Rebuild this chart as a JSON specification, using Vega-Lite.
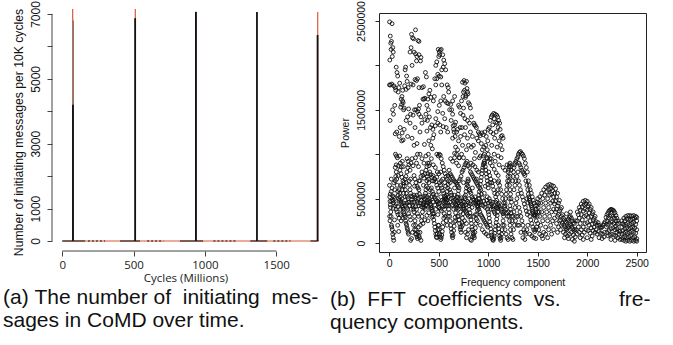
{
"$schema": "https://vega.github.io/schema/vega-lite/v6.json",
"padding": {"left": 3, "top": 0, "right": 0, "bottom": 0},
"background": "white",
"bounds": "flush",
"spacing": 60,
"config": {"view": {"stroke": null}, "axis": {"labelFont": "Liberation Sans", "titleFont": "Liberation Sans", "titleFontWeight": "normal", "labelColor": "#111", "titleColor": "#111", "tickColor": "#333", "grid": false, "labelOverlap": false}},
"datasets": {
"base": [
{"c":"red","k":"solid","x":0,"x2":1800},
{"c":"black","k":"solid","x":0,"x2":160},{"c":"black","k":"dotted","x":180,"x2":300},{"c":"black","k":"solid","x":405,"x2":545},{"c":"black","k":"dotted","x":595,"x2":710},{"c":"black","k":"solid","x":825,"x2":987},{"c":"black","k":"dotted","x":1060,"x2":1225},{"c":"black","k":"solid","x":1318,"x2":1437},{"c":"black","k":"dotted","x":1480,"x2":1600},{"c":"black","k":"solid","x":1740,"x2":1790}
],
"spikes": [
{"c":"red","x":73,"y":7150},{"c":"red","x":512,"y":7150},{"c":"red","x":938,"y":7080},{"c":"red","x":1791,"y":7060},
{"c":"grey","x":77,"y":6800},{"c":"black","x":75,"y":4200},{"c":"black","x":511,"y":6870},{"c":"black","x":937,"y":7060},{"c":"black","x":1365,"y":7060},{"c":"black","x":1790,"y":6350}
],
"pts": [
{"f":3,"p":2490000},{"f":28,"p":2470000},{"f":10,"p":2330000},{"f":22,"p":2270000},{"f":15,"p":2250000},{"f":35,"p":2200000},{"f":5,"p":2060000},{"f":40,"p":2150000},{"f":18,"p":2180000},{"f":30,"p":2100000},{"f":2,"p":1780000},{"f":12,"p":1780000},{"f":25,"p":1790000},{"f":45,"p":1770000},{"f":60,"p":1750000},{"f":8,"p":1380000},{"f":33,"p":1500000},{"f":42,"p":1450000},{"f":55,"p":1550000},{"f":70,"p":1980000},{"f":78,"p":1920000},{"f":85,"p":1880000},{"f":65,"p":1720000},{"f":90,"p":1700000},{"f":95,"p":1750000},
{"f":105,"p":1800000},{"f":120,"p":1620000},{"f":128,"p":1650000},{"f":135,"p":1600000},{"f":140,"p":1580000},{"f":125,"p":1560000},{"f":115,"p":1530000},{"f":145,"p":1500000},{"f":150,"p":1520000},{"f":160,"p":1950000},{"f":165,"p":1980000},{"f":175,"p":1880000},{"f":180,"p":1820000},{"f":110,"p":1300000},{"f":130,"p":1240000},{"f":150,"p":1280000},{"f":170,"p":1380000},{"f":185,"p":1420000},{"f":100,"p":1200000},{"f":60,"p":1230000},{"f":75,"p":1250000},{"f":190,"p":1750000},{"f":170,"p":1730000},{"f":155,"p":1770000},{"f":135,"p":1720000},{"f":195,"p":1510000},{"f":185,"p":1200000},{"f":140,"p":1160000},{"f":125,"p":1150000},
{"f":225,"p":2350000},{"f":265,"p":2400000},{"f":235,"p":2310000},{"f":245,"p":2300000},{"f":290,"p":2280000},{"f":300,"p":2270000},{"f":210,"p":2150000},{"f":220,"p":2200000},{"f":250,"p":2150000},{"f":265,"p":2130000},{"f":280,"p":2100000},{"f":300,"p":2120000},{"f":275,"p":2050000},{"f":315,"p":2050000},{"f":230,"p":2000000},{"f":320,"p":2090000},{"f":260,"p":1840000},{"f":275,"p":1830000},{"f":285,"p":1850000},{"f":220,"p":1790000},{"f":240,"p":1780000},{"f":300,"p":1750000},{"f":330,"p":1750000},{"f":345,"p":1760000},{"f":350,"p":1620000},{"f":340,"p":1620000},{"f":360,"p":1630000},{"f":305,"p":1550000},{"f":255,"p":1500000},{"f":270,"p":1500000},{"f":285,"p":1480000},{"f":295,"p":1510000},{"f":240,"p":1440000},{"f":300,"p":1450000},{"f":320,"p":1420000},{"f":215,"p":1450000},{"f":210,"p":1350000},{"f":260,"p":1300000},{"f":230,"p":1180000},{"f":250,"p":1100000},{"f":280,"p":1120000},{"f":330,"p":1350000},{"f":310,"p":1250000},
{"f":365,"p":1920000},{"f":375,"p":1870000},{"f":390,"p":1620000},{"f":400,"p":1680000},{"f":410,"p":1720000},{"f":420,"p":1640000},{"f":380,"p":1550000},{"f":395,"p":1500000},{"f":405,"p":1420000},{"f":370,"p":1450000},{"f":360,"p":1390000},{"f":385,"p":1380000},{"f":415,"p":1300000},{"f":430,"p":1330000},{"f":440,"p":1280000},{"f":380,"p":1260000},{"f":400,"p":1150000},{"f":355,"p":1110000},{"f":420,"p":1100000},{"f":440,"p":1180000},{"f":450,"p":1220000},{"f":435,"p":1060000},{"f":455,"p":1650000},{"f":445,"p":1600000},{"f":470,"p":1780000},{"f":460,"p":1850000},
{"f":470,"p":2000000},{"f":480,"p":2040000},{"f":495,"p":2180000},{"f":505,"p":2150000},{"f":515,"p":2170000},{"f":525,"p":2180000},{"f":510,"p":2120000},{"f":500,"p":2100000},{"f":540,"p":2120000},{"f":550,"p":2060000},{"f":560,"p":2020000},{"f":545,"p":1980000},{"f":530,"p":1950000},{"f":490,"p":1900000},{"f":505,"p":1880000},{"f":520,"p":1870000},{"f":480,"p":1850000},{"f":570,"p":1950000},{"f":585,"p":1780000},{"f":595,"p":1750000},{"f":600,"p":1700000},{"f":530,"p":1780000},{"f":550,"p":1650000},{"f":565,"p":1600000},{"f":580,"p":1580000},{"f":595,"p":1570000},{"f":520,"p":1600000},{"f":505,"p":1550000},{"f":490,"p":1480000},{"f":540,"p":1460000},{"f":560,"p":1400000},{"f":470,"p":1400000},{"f":490,"p":1350000},{"f":510,"p":1330000},{"f":465,"p":1320000},{"f":520,"p":1250000},{"f":545,"p":1310000},{"f":575,"p":1300000},{"f":590,"p":1250000},{"f":610,"p":1500000},{"f":620,"p":1560000},
{"f":630,"p":1500000},{"f":640,"p":1450000},{"f":645,"p":1320000},{"f":650,"p":1280000},{"f":655,"p":1250000},{"f":660,"p":1330000},{"f":670,"p":1360000},{"f":680,"p":1250000},{"f":665,"p":1200000},{"f":690,"p":1280000},{"f":700,"p":1550000},{"f":710,"p":1530000},{"f":640,"p":1600000},{"f":660,"p":1650000},{"f":625,"p":1380000},{"f":640,"p":1180000},{"f":670,"p":1080000},{"f":690,"p":1050000},{"f":700,"p":1150000},{"f":720,"p":1460000},{"f":715,"p":1300000},{"f":680,"p":1000000},{"f":705,"p":960000},{"f":660,"p":1010000},
{"f":740,"p":1810000},{"f":755,"p":1830000},{"f":765,"p":1800000},{"f":780,"p":1820000},{"f":785,"p":1740000},{"f":790,"p":1700000},{"f":795,"p":1680000},{"f":775,"p":1660000},{"f":760,"p":1720000},{"f":750,"p":1700000},{"f":745,"p":1650000},{"f":730,"p":1600000},{"f":770,"p":1640000},{"f":800,"p":1580000},{"f":810,"p":1560000},{"f":820,"p":1520000},{"f":830,"p":1420000},{"f":750,"p":1520000},{"f":765,"p":1400000},{"f":745,"p":1440000},{"f":790,"p":1380000},{"f":810,"p":1350000},{"f":735,"p":1300000},{"f":770,"p":1300000},{"f":820,"p":1250000},{"f":840,"p":1200000},{"f":760,"p":1220000},{"f":790,"p":1180000},{"f":800,"p":1100000},{"f":850,"p":1100000},{"f":830,"p":1080000},{"f":780,"p":1050000},{"f":740,"p":1100000},{"f":720,"p":1200000},{"f":855,"p":1350000},{"f":860,"p":1330000},
{"f":870,"p":1320000},{"f":880,"p":1300000},{"f":900,"p":1250000},{"f":910,"p":1230000},{"f":920,"p":1210000},{"f":935,"p":1240000},{"f":950,"p":1220000},{"f":965,"p":1250000},{"f":980,"p":1200000},{"f":900,"p":1150000},{"f":930,"p":1120000},{"f":955,"p":1080000},{"f":975,"p":1100000},{"f":995,"p":1150000},{"f":885,"p":1180000},{"f":960,"p":1000000},{"f":940,"p":1050000},{"f":990,"p":1050000},{"f":920,"p":980000},{"f":870,"p":1020000},{"f":860,"p":950000},{"f":985,"p":960000},{"f":1000,"p":1000000},{"f":1000,"p":1280000},
{"f":1020,"p":1380000},{"f":1030,"p":1420000},{"f":1040,"p":1440000},{"f":1055,"p":1460000},{"f":1070,"p":1450000},{"f":1085,"p":1440000},{"f":1095,"p":1420000},{"f":1105,"p":1380000},{"f":1115,"p":1350000},{"f":1060,"p":1400000},{"f":1075,"p":1360000},{"f":1045,"p":1330000},{"f":1090,"p":1350000},{"f":1010,"p":1300000},{"f":1025,"p":1250000},{"f":1050,"p":1230000},{"f":1080,"p":1250000},{"f":1100,"p":1300000},{"f":1120,"p":1280000},{"f":1130,"p":1200000},{"f":1140,"p":1210000},{"f":1150,"p":1180000},{"f":1125,"p":1100000},{"f":1110,"p":1150000},{"f":1065,"p":1180000},{"f":1035,"p":1100000},{"f":1090,"p":1080000},{"f":1140,"p":1050000},{"f":1060,"p":1000000},{"f":1100,"p":980000},{"f":1130,"p":960000},{"f":1015,"p":950000},
{"f":2,"p":650000},{"f":5,"p":520000},{"f":8,"p":470000},{"f":12,"p":400000},{"f":15,"p":350000},{"f":18,"p":300000},{"f":22,"p":200000},{"f":25,"p":180000},{"f":30,"p":150000},{"f":35,"p":100000},{"f":40,"p":60000},{"f":45,"p":30000},{"f":50,"p":120000},{"f":10,"p":550000},{"f":20,"p":580000},{"f":28,"p":620000},{"f":33,"p":530000},{"f":38,"p":480000},{"f":42,"p":450000},{"f":48,"p":520000},{"f":55,"p":600000},{"f":60,"p":700000},{"f":65,"p":750000},{"f":70,"p":800000},{"f":75,"p":720000},{"f":80,"p":650000},{"f":85,"p":580000},{"f":90,"p":540000},{"f":95,"p":500000},{"f":58,"p":420000},{"f":68,"p":380000},{"f":78,"p":350000},{"f":88,"p":320000},{"f":98,"p":280000},{"f":62,"p":1000000},{"f":72,"p":980000},{"f":82,"p":960000},{"f":92,"p":870000},{"f":3,"p":300000},{"f":7,"p":250000},{"f":52,"p":260000},{"f":85,"p":200000},{"f":95,"p":130000},{"f":60,"p":850000},{"f":70,"p":880000},
{"f":100,"p":600000},{"f":105,"p":560000},{"f":110,"p":520000},{"f":115,"p":480000},{"f":120,"p":460000},{"f":125,"p":440000},{"f":130,"p":420000},{"f":135,"p":400000},{"f":140,"p":380000},{"f":145,"p":350000},{"f":150,"p":330000},{"f":155,"p":310000},{"f":160,"p":290000},{"f":165,"p":250000},{"f":170,"p":220000},{"f":175,"p":200000},{"f":180,"p":170000},{"f":185,"p":150000},{"f":190,"p":120000},{"f":195,"p":100000},{"f":108,"p":820000},{"f":118,"p":780000},{"f":128,"p":740000},{"f":138,"p":700000},{"f":148,"p":680000},{"f":158,"p":720000},{"f":168,"p":750000},{"f":178,"p":800000},{"f":188,"p":850000},{"f":198,"p":880000},{"f":112,"p":900000},{"f":122,"p":860000},{"f":132,"p":920000},{"f":142,"p":860000},{"f":152,"p":640000},{"f":162,"p":600000},{"f":172,"p":560000},{"f":182,"p":520000},{"f":192,"p":500000},{"f":145,"p":560000},{"f":130,"p":600000},{"f":115,"p":650000},{"f":200,"p":460000},{"f":175,"p":450000},{"f":160,"p":420000},{"f":140,"p":280000},{"f":120,"p":250000},{"f":110,"p":320000},{"f":185,"p":380000},{"f":195,"p":330000},{"f":105,"p":980000},{"f":180,"p":950000},{"f":190,"p":920000},
{"f":200,"p":700000},{"f":205,"p":650000},{"f":210,"p":600000},{"f":215,"p":560000},{"f":220,"p":530000},{"f":225,"p":490000},{"f":230,"p":460000},{"f":235,"p":430000},{"f":240,"p":410000},{"f":245,"p":380000},{"f":250,"p":350000},{"f":255,"p":300000},{"f":260,"p":250000},{"f":265,"p":200000},{"f":270,"p":150000},{"f":275,"p":100000},{"f":280,"p":70000},{"f":285,"p":50000},{"f":215,"p":30000},{"f":225,"p":50000},{"f":235,"p":120000},{"f":245,"p":200000},{"f":255,"p":150000},{"f":265,"p":100000},{"f":290,"p":120000},{"f":295,"p":180000},{"f":210,"p":820000},{"f":220,"p":900000},{"f":230,"p":950000},{"f":240,"p":870000},{"f":250,"p":760000},{"f":260,"p":720000},{"f":270,"p":680000},{"f":280,"p":640000},{"f":290,"p":620000},{"f":300,"p":600000},{"f":250,"p":540000},{"f":260,"p":520000},{"f":270,"p":500000},{"f":280,"p":470000},{"f":290,"p":450000},{"f":300,"p":420000},{"f":275,"p":380000},{"f":285,"p":330000},{"f":295,"p":300000},{"f":205,"p":300000},{"f":215,"p":260000},{"f":265,"p":960000},{"f":275,"p":900000},{"f":285,"p":1000000},{"f":295,"p":860000},
{"f":300,"p":80000},{"f":305,"p":60000},{"f":310,"p":120000},{"f":320,"p":30000},{"f":315,"p":200000},{"f":325,"p":250000},{"f":330,"p":300000},{"f":335,"p":350000},{"f":340,"p":400000},{"f":345,"p":450000},{"f":350,"p":480000},{"f":355,"p":500000},{"f":360,"p":530000},{"f":365,"p":560000},{"f":370,"p":600000},{"f":375,"p":640000},{"f":380,"p":700000},{"f":385,"p":750000},{"f":390,"p":780000},{"f":395,"p":720000},{"f":400,"p":680000},{"f":310,"p":700000},{"f":320,"p":750000},{"f":330,"p":800000},{"f":340,"p":760000},{"f":350,"p":730000},{"f":360,"p":780000},{"f":370,"p":820000},{"f":380,"p":860000},{"f":390,"p":900000},{"f":400,"p":870000},{"f":305,"p":550000},{"f":315,"p":520000},{"f":325,"p":480000},{"f":345,"p":430000},{"f":355,"p":400000},{"f":365,"p":380000},{"f":375,"p":420000},{"f":385,"p":450000},{"f":395,"p":480000},{"f":310,"p":1000000},{"f":330,"p":950000},{"f":350,"p":900000},{"f":370,"p":980000},{"f":395,"p":1000000},{"f":340,"p":220000},{"f":360,"p":260000},{"f":380,"p":310000},{"f":400,"p":340000},{"f":390,"p":250000},
{"f":400,"p":540000},{"f":405,"p":500000},{"f":410,"p":470000},{"f":415,"p":440000},{"f":420,"p":420000},{"f":425,"p":400000},{"f":430,"p":380000},{"f":435,"p":360000},{"f":440,"p":330000},{"f":445,"p":300000},{"f":450,"p":260000},{"f":455,"p":220000},{"f":460,"p":180000},{"f":465,"p":140000},{"f":470,"p":100000},{"f":475,"p":70000},{"f":480,"p":60000},{"f":485,"p":100000},{"f":490,"p":150000},{"f":495,"p":200000},{"f":410,"p":800000},{"f":420,"p":770000},{"f":430,"p":740000},{"f":440,"p":760000},{"f":450,"p":700000},{"f":460,"p":720000},{"f":470,"p":690000},{"f":480,"p":650000},{"f":490,"p":620000},{"f":500,"p":580000},{"f":415,"p":600000},{"f":425,"p":620000},{"f":435,"p":580000},{"f":445,"p":550000},{"f":455,"p":520000},{"f":465,"p":500000},{"f":475,"p":480000},{"f":485,"p":460000},{"f":495,"p":440000},{"f":405,"p":900000},{"f":425,"p":950000},{"f":445,"p":880000},{"f":465,"p":850000},{"f":485,"p":800000},{"f":500,"p":780000},{"f":430,"p":290000},{"f":450,"p":330000},{"f":470,"p":380000},{"f":490,"p":320000},{"f":500,"p":400000},{"f":480,"p":1000000},{"f":495,"p":980000},
{"f":500,"p":200000},{"f":505,"p":150000},{"f":510,"p":100000},{"f":515,"p":70000},{"f":520,"p":40000},{"f":525,"p":60000},{"f":530,"p":90000},{"f":535,"p":130000},{"f":540,"p":180000},{"f":545,"p":230000},{"f":550,"p":280000},{"f":555,"p":330000},{"f":560,"p":380000},{"f":565,"p":420000},{"f":570,"p":460000},{"f":575,"p":500000},{"f":580,"p":540000},{"f":585,"p":580000},{"f":590,"p":620000},{"f":595,"p":660000},{"f":600,"p":700000},{"f":505,"p":1000000},{"f":515,"p":990000},{"f":525,"p":950000},{"f":535,"p":900000},{"f":545,"p":860000},{"f":555,"p":820000},{"f":565,"p":780000},{"f":575,"p":750000},{"f":585,"p":720000},{"f":595,"p":760000},{"f":510,"p":680000},{"f":520,"p":650000},{"f":530,"p":620000},{"f":540,"p":590000},{"f":550,"p":560000},{"f":560,"p":530000},{"f":570,"p":520000},{"f":580,"p":480000},{"f":590,"p":450000},{"f":600,"p":420000},{"f":505,"p":400000},{"f":515,"p":380000},{"f":525,"p":360000},{"f":535,"p":420000},{"f":545,"p":460000},{"f":555,"p":480000},{"f":565,"p":300000},{"f":575,"p":250000},{"f":585,"p":200000},{"f":595,"p":300000},{"f":520,"p":800000},{"f":540,"p":720000},{"f":560,"p":680000},
{"f":600,"p":380000},{"f":605,"p":340000},{"f":610,"p":300000},{"f":615,"p":250000},{"f":620,"p":200000},{"f":625,"p":160000},{"f":630,"p":120000},{"f":635,"p":80000},{"f":640,"p":60000},{"f":645,"p":90000},{"f":650,"p":140000},{"f":655,"p":190000},{"f":660,"p":240000},{"f":665,"p":290000},{"f":670,"p":340000},{"f":675,"p":390000},{"f":680,"p":430000},{"f":685,"p":470000},{"f":690,"p":510000},{"f":695,"p":550000},{"f":700,"p":590000},{"f":605,"p":820000},{"f":615,"p":780000},{"f":625,"p":760000},{"f":635,"p":740000},{"f":645,"p":720000},{"f":655,"p":700000},{"f":665,"p":690000},{"f":675,"p":680000},{"f":685,"p":660000},{"f":695,"p":640000},{"f":610,"p":600000},{"f":620,"p":570000},{"f":630,"p":540000},{"f":640,"p":510000},{"f":650,"p":480000},{"f":660,"p":460000},{"f":670,"p":440000},{"f":680,"p":420000},{"f":690,"p":400000},{"f":700,"p":380000},{"f":620,"p":950000},{"f":640,"p":920000},{"f":660,"p":960000},{"f":680,"p":900000},{"f":700,"p":870000},{"f":630,"p":420000},{"f":650,"p":380000},{"f":670,"p":250000},{"f":690,"p":300000},
{"f":700,"p":300000},{"f":705,"p":260000},{"f":710,"p":220000},{"f":715,"p":180000},{"f":720,"p":150000},{"f":725,"p":120000},{"f":730,"p":180000},{"f":735,"p":230000},{"f":740,"p":280000},{"f":745,"p":330000},{"f":750,"p":380000},{"f":755,"p":420000},{"f":760,"p":460000},{"f":765,"p":500000},{"f":770,"p":540000},{"f":775,"p":580000},{"f":780,"p":620000},{"f":785,"p":660000},{"f":790,"p":690000},{"f":795,"p":720000},{"f":800,"p":700000},{"f":705,"p":700000},{"f":715,"p":720000},{"f":725,"p":750000},{"f":735,"p":800000},{"f":745,"p":820000},{"f":755,"p":850000},{"f":765,"p":880000},{"f":775,"p":900000},{"f":785,"p":920000},{"f":795,"p":870000},{"f":710,"p":500000},{"f":720,"p":470000},{"f":730,"p":440000},{"f":740,"p":420000},{"f":750,"p":400000},{"f":760,"p":380000},{"f":770,"p":360000},{"f":780,"p":340000},{"f":790,"p":320000},{"f":800,"p":300000},{"f":720,"p":350000},{"f":740,"p":200000},{"f":760,"p":250000},{"f":780,"p":220000},{"f":800,"p":150000},{"f":790,"p":100000},{"f":780,"p":60000},{"f":770,"p":120000},{"f":710,"p":960000},{"f":730,"p":1000000},{"f":750,"p":960000},
{"f":800,"p":450000},{"f":805,"p":420000},{"f":810,"p":380000},{"f":815,"p":340000},{"f":820,"p":300000},{"f":825,"p":260000},{"f":830,"p":220000},{"f":835,"p":180000},{"f":840,"p":150000},{"f":845,"p":120000},{"f":850,"p":100000},{"f":855,"p":80000},{"f":860,"p":60000},{"f":820,"p":40000},{"f":830,"p":30000},{"f":840,"p":70000},{"f":865,"p":120000},{"f":870,"p":170000},{"f":875,"p":220000},{"f":880,"p":270000},{"f":885,"p":320000},{"f":890,"p":370000},{"f":895,"p":420000},{"f":900,"p":460000},{"f":805,"p":600000},{"f":815,"p":580000},{"f":825,"p":560000},{"f":835,"p":520000},{"f":845,"p":500000},{"f":855,"p":480000},{"f":865,"p":460000},{"f":875,"p":440000},{"f":885,"p":420000},{"f":895,"p":400000},{"f":810,"p":850000},{"f":820,"p":800000},{"f":830,"p":780000},{"f":840,"p":760000},{"f":850,"p":740000},{"f":860,"p":720000},{"f":870,"p":700000},{"f":880,"p":680000},{"f":890,"p":660000},{"f":900,"p":640000},{"f":825,"p":900000},{"f":845,"p":880000},{"f":865,"p":860000},{"f":885,"p":820000},{"f":900,"p":800000},{"f":850,"p":300000},{"f":870,"p":320000},{"f":890,"p":250000},
{"f":900,"p":500000},{"f":905,"p":540000},{"f":910,"p":580000},{"f":915,"p":620000},{"f":920,"p":660000},{"f":925,"p":700000},{"f":930,"p":740000},{"f":935,"p":780000},{"f":940,"p":820000},{"f":945,"p":850000},{"f":950,"p":880000},{"f":955,"p":900000},{"f":960,"p":920000},{"f":965,"p":900000},{"f":970,"p":860000},{"f":975,"p":820000},{"f":980,"p":780000},{"f":985,"p":740000},{"f":990,"p":700000},{"f":995,"p":660000},{"f":1000,"p":620000},{"f":905,"p":380000},{"f":915,"p":350000},{"f":925,"p":320000},{"f":935,"p":300000},{"f":945,"p":280000},{"f":955,"p":260000},{"f":965,"p":240000},{"f":975,"p":220000},{"f":985,"p":200000},{"f":995,"p":180000},{"f":910,"p":450000},{"f":930,"p":430000},{"f":950,"p":420000},{"f":970,"p":400000},{"f":990,"p":380000},{"f":920,"p":200000},{"f":940,"p":150000},{"f":960,"p":120000},{"f":980,"p":100000},{"f":1000,"p":80000},{"f":910,"p":960000},{"f":950,"p":980000},{"f":990,"p":950000},{"f":930,"p":550000},{"f":960,"p":560000},{"f":990,"p":520000},
{"f":1000,"p":350000},{"f":1005,"p":320000},{"f":1010,"p":280000},{"f":1015,"p":240000},{"f":1020,"p":200000},{"f":1025,"p":160000},{"f":1030,"p":120000},{"f":1035,"p":90000},{"f":1040,"p":60000},{"f":1045,"p":40000},{"f":1050,"p":30000},{"f":1055,"p":50000},{"f":1060,"p":80000},{"f":1065,"p":110000},{"f":1070,"p":150000},{"f":1075,"p":190000},{"f":1080,"p":230000},{"f":1085,"p":270000},{"f":1090,"p":310000},{"f":1095,"p":350000},{"f":1100,"p":390000},{"f":1005,"p":800000},{"f":1015,"p":760000},{"f":1025,"p":720000},{"f":1035,"p":680000},{"f":1045,"p":640000},{"f":1055,"p":600000},{"f":1065,"p":560000},{"f":1075,"p":520000},{"f":1085,"p":480000},{"f":1095,"p":440000},{"f":1010,"p":500000},{"f":1020,"p":470000},{"f":1030,"p":440000},{"f":1040,"p":410000},{"f":1050,"p":380000},{"f":1060,"p":350000},{"f":1070,"p":330000},{"f":1080,"p":400000},{"f":1090,"p":550000},{"f":1100,"p":600000},{"f":1020,"p":900000},{"f":1040,"p":870000},{"f":1060,"p":830000},{"f":1080,"p":790000},{"f":1100,"p":760000},{"f":1030,"p":950000},{"f":1070,"p":920000},{"f":1110,"p":880000},
{"f":1100,"p":200000},{"f":1105,"p":160000},{"f":1110,"p":120000},{"f":1115,"p":80000},{"f":1120,"p":50000},{"f":1125,"p":30000},{"f":1130,"p":60000},{"f":1135,"p":100000},{"f":1140,"p":150000},{"f":1145,"p":200000},{"f":1150,"p":250000},{"f":1155,"p":300000},{"f":1160,"p":350000},{"f":1165,"p":400000},{"f":1170,"p":450000},{"f":1175,"p":500000},{"f":1180,"p":550000},{"f":1185,"p":600000},{"f":1190,"p":650000},{"f":1195,"p":700000},{"f":1200,"p":750000},{"f":1105,"p":700000},{"f":1115,"p":650000},{"f":1125,"p":600000},{"f":1135,"p":550000},{"f":1145,"p":500000},{"f":1155,"p":450000},{"f":1165,"p":420000},{"f":1175,"p":380000},{"f":1185,"p":340000},{"f":1195,"p":300000},{"f":1110,"p":450000},{"f":1120,"p":400000},{"f":1130,"p":380000},{"f":1140,"p":350000},{"f":1150,"p":330000},{"f":1160,"p":200000},{"f":1170,"p":150000},{"f":1180,"p":100000},{"f":1190,"p":60000},{"f":1200,"p":40000},{"f":1150,"p":850000},{"f":1170,"p":820000},{"f":1190,"p":880000},{"f":1200,"p":800000},
{"f":1205,"p":820000},{"f":1210,"p":860000},{"f":1215,"p":880000},{"f":1220,"p":900000},{"f":1225,"p":860000},{"f":1230,"p":820000},{"f":1210,"p":700000},{"f":1215,"p":650000},{"f":1220,"p":600000},{"f":1225,"p":550000},{"f":1230,"p":500000},{"f":1235,"p":460000},{"f":1220,"p":750000},{"f":1212,"p":500000},{"f":1218,"p":420000},{"f":1224,"p":380000},{"f":1230,"p":340000},{"f":1236,"p":300000},{"f":1205,"p":350000},{"f":1210,"p":300000},{"f":1215,"p":250000},{"f":1220,"p":200000},{"f":1225,"p":150000},{"f":1230,"p":100000},{"f":1240,"p":60000},{"f":1250,"p":40000},{"f":1245,"p":700000},{"f":1250,"p":750000},{"f":1255,"p":800000},{"f":1260,"p":850000},{"f":1265,"p":880000},{"f":1270,"p":900000},{"f":1280,"p":920000},{"f":1290,"p":950000},{"f":1300,"p":970000},{"f":1240,"p":250000},{"f":1250,"p":300000},{"f":1260,"p":350000},{"f":1270,"p":400000},{"f":1280,"p":450000},{"f":1290,"p":500000},{"f":1300,"p":550000},{"f":1255,"p":150000},{"f":1265,"p":200000},{"f":1275,"p":250000},{"f":1285,"p":300000},{"f":1295,"p":200000},{"f":1260,"p":600000},{"f":1270,"p":650000},{"f":1280,"p":700000},{"f":1290,"p":750000},{"f":1300,"p":800000},
{"f":1305,"p":1000000},{"f":1315,"p":1020000},{"f":1325,"p":1030000},{"f":1335,"p":1010000},{"f":1345,"p":1000000},{"f":1355,"p":980000},{"f":1365,"p":950000},{"f":1375,"p":900000},{"f":1385,"p":850000},{"f":1395,"p":800000},{"f":1310,"p":900000},{"f":1320,"p":880000},{"f":1330,"p":850000},{"f":1340,"p":820000},{"f":1350,"p":800000},{"f":1360,"p":780000},{"f":1370,"p":760000},{"f":1380,"p":700000},{"f":1390,"p":650000},{"f":1400,"p":600000},{"f":1305,"p":700000},{"f":1315,"p":650000},{"f":1325,"p":600000},{"f":1335,"p":560000},{"f":1345,"p":520000},{"f":1355,"p":480000},{"f":1365,"p":440000},{"f":1375,"p":400000},{"f":1385,"p":360000},{"f":1395,"p":320000},{"f":1310,"p":400000},{"f":1320,"p":350000},{"f":1330,"p":300000},{"f":1340,"p":250000},{"f":1350,"p":200000},{"f":1360,"p":150000},{"f":1370,"p":120000},{"f":1380,"p":100000},{"f":1390,"p":150000},{"f":1400,"p":200000},{"f":1310,"p":200000},{"f":1330,"p":120000},{"f":1350,"p":60000},{"f":1370,"p":40000},{"f":1300,"p":300000},{"f":1390,"p":500000},{"f":1400,"p":450000},
{"f":1405,"p":550000},{"f":1410,"p":520000},{"f":1415,"p":500000},{"f":1420,"p":480000},{"f":1425,"p":460000},{"f":1430,"p":440000},{"f":1435,"p":420000},{"f":1440,"p":400000},{"f":1445,"p":380000},{"f":1450,"p":360000},{"f":1455,"p":340000},{"f":1460,"p":320000},{"f":1465,"p":310000},{"f":1470,"p":300000},{"f":1475,"p":320000},{"f":1480,"p":350000},{"f":1485,"p":380000},{"f":1490,"p":420000},{"f":1495,"p":460000},{"f":1500,"p":500000},{"f":1410,"p":350000},{"f":1420,"p":300000},{"f":1430,"p":260000},{"f":1440,"p":220000},{"f":1450,"p":180000},{"f":1460,"p":150000},{"f":1470,"p":130000},{"f":1480,"p":150000},{"f":1490,"p":180000},{"f":1500,"p":220000},{"f":1405,"p":700000},{"f":1415,"p":650000},{"f":1425,"p":600000},{"f":1435,"p":560000},{"f":1445,"p":520000},{"f":1455,"p":480000},{"f":1465,"p":450000},{"f":1475,"p":420000},{"f":1485,"p":250000},{"f":1495,"p":300000},{"f":1420,"p":100000},{"f":1440,"p":80000},{"f":1460,"p":60000},{"f":1480,"p":50000},{"f":1500,"p":350000},
{"f":1520,"p":520000},{"f":1540,"p":560000},{"f":1560,"p":600000},{"f":1580,"p":630000},{"f":1600,"p":650000},{"f":1620,"p":660000},{"f":1640,"p":650000},{"f":1660,"p":640000},{"f":1680,"p":610000},{"f":1700,"p":560000},{"f":1720,"p":480000},{"f":1740,"p":400000},
{"f":1530,"p":450000},{"f":1550,"p":500000},{"f":1570,"p":540000},{"f":1590,"p":580000},{"f":1610,"p":600000},{"f":1630,"p":610000},{"f":1650,"p":590000},{"f":1670,"p":560000},{"f":1690,"p":520000},{"f":1710,"p":450000},{"f":1730,"p":380000},{"f":1750,"p":320000},
{"f":1520,"p":300000},{"f":1540,"p":350000},{"f":1560,"p":400000},{"f":1580,"p":450000},{"f":1600,"p":500000},{"f":1620,"p":540000},{"f":1640,"p":550000},{"f":1660,"p":520000},{"f":1680,"p":470000},{"f":1700,"p":420000},{"f":1720,"p":360000},{"f":1740,"p":300000},
{"f":1510,"p":150000},{"f":1530,"p":200000},{"f":1550,"p":250000},{"f":1570,"p":300000},{"f":1590,"p":350000},{"f":1610,"p":400000},{"f":1630,"p":450000},{"f":1650,"p":470000},{"f":1670,"p":440000},{"f":1690,"p":380000},{"f":1710,"p":320000},{"f":1730,"p":260000},{"f":1750,"p":220000},
{"f":1520,"p":100000},{"f":1540,"p":80000},{"f":1560,"p":120000},{"f":1580,"p":180000},{"f":1600,"p":250000},{"f":1620,"p":300000},{"f":1640,"p":350000},{"f":1660,"p":380000},{"f":1680,"p":350000},{"f":1700,"p":300000},{"f":1720,"p":250000},{"f":1740,"p":200000},
{"f":1550,"p":50000},{"f":1580,"p":100000},{"f":1610,"p":150000},{"f":1630,"p":200000},{"f":1650,"p":250000},{"f":1670,"p":280000},{"f":1690,"p":220000},{"f":1710,"p":180000},{"f":1730,"p":150000},{"f":1640,"p":100000},{"f":1660,"p":150000},{"f":1600,"p":60000},{"f":1700,"p":120000},{"f":1505,"p":400000},{"f":1510,"p":450000},{"f":1515,"p":350000},
{"f":1760,"p":280000},{"f":1770,"p":260000},{"f":1780,"p":240000},{"f":1790,"p":230000},{"f":1800,"p":250000},{"f":1810,"p":270000},{"f":1820,"p":290000},{"f":1830,"p":300000},{"f":1840,"p":280000},{"f":1850,"p":250000},{"f":1860,"p":230000},{"f":1870,"p":220000},{"f":1880,"p":250000},{"f":1765,"p":200000},{"f":1775,"p":180000},{"f":1785,"p":160000},{"f":1795,"p":150000},{"f":1805,"p":170000},{"f":1815,"p":190000},{"f":1825,"p":210000},{"f":1835,"p":200000},{"f":1845,"p":180000},{"f":1855,"p":160000},{"f":1865,"p":140000},{"f":1875,"p":150000},{"f":1760,"p":120000},{"f":1780,"p":100000},{"f":1800,"p":80000},{"f":1820,"p":100000},{"f":1840,"p":120000},{"f":1860,"p":90000},{"f":1880,"p":70000},{"f":1770,"p":60000},{"f":1810,"p":50000},{"f":1850,"p":40000},{"f":1870,"p":20000},{"f":1790,"p":330000},{"f":1830,"p":350000},
{"f":1900,"p":350000},{"f":1920,"p":400000},{"f":1940,"p":440000},{"f":1960,"p":470000},{"f":1980,"p":480000},{"f":2000,"p":470000},{"f":2020,"p":440000},{"f":2040,"p":400000},{"f":2060,"p":350000},{"f":2080,"p":300000},
{"f":1910,"p":320000},{"f":1930,"p":370000},{"f":1950,"p":410000},{"f":1970,"p":430000},{"f":1990,"p":440000},{"f":2010,"p":420000},{"f":2030,"p":380000},{"f":2050,"p":330000},{"f":2070,"p":280000},{"f":2090,"p":240000},
{"f":1900,"p":250000},{"f":1920,"p":280000},{"f":1940,"p":320000},{"f":1960,"p":360000},{"f":1980,"p":380000},{"f":2000,"p":370000},{"f":2020,"p":340000},{"f":2040,"p":300000},{"f":2060,"p":260000},{"f":2080,"p":220000},{"f":2100,"p":200000},
{"f":1890,"p":150000},{"f":1910,"p":180000},{"f":1930,"p":220000},{"f":1950,"p":260000},{"f":1970,"p":300000},{"f":1990,"p":310000},{"f":2010,"p":290000},{"f":2030,"p":250000},{"f":2050,"p":210000},{"f":2070,"p":180000},{"f":2090,"p":150000},
{"f":1900,"p":100000},{"f":1920,"p":120000},{"f":1940,"p":150000},{"f":1960,"p":180000},{"f":1980,"p":220000},{"f":2000,"p":230000},{"f":2020,"p":200000},{"f":2040,"p":170000},{"f":2060,"p":140000},{"f":2080,"p":120000},{"f":2100,"p":100000},
{"f":1930,"p":60000},{"f":1950,"p":90000},{"f":1970,"p":120000},{"f":1990,"p":150000},{"f":2010,"p":140000},{"f":2030,"p":110000},{"f":2050,"p":80000},{"f":1960,"p":40000},{"f":2000,"p":60000},{"f":2040,"p":40000},
{"f":2110,"p":230000},{"f":2120,"p":200000},{"f":2130,"p":180000},{"f":2140,"p":170000},{"f":2150,"p":180000},{"f":2160,"p":200000},{"f":2170,"p":220000},{"f":2180,"p":240000},{"f":2115,"p":130000},{"f":2135,"p":110000},{"f":2155,"p":100000},{"f":2175,"p":120000},{"f":2120,"p":60000},{"f":2150,"p":50000},{"f":2170,"p":70000},
{"f":2190,"p":290000},{"f":2200,"p":320000},{"f":2210,"p":340000},{"f":2220,"p":360000},{"f":2230,"p":370000},{"f":2240,"p":380000},{"f":2250,"p":375000},{"f":2260,"p":370000},{"f":2270,"p":360000},{"f":2280,"p":340000},{"f":2290,"p":310000},{"f":2300,"p":280000},{"f":2310,"p":250000},{"f":2320,"p":220000},
{"f":2200,"p":250000},{"f":2215,"p":280000},{"f":2230,"p":300000},{"f":2245,"p":310000},{"f":2260,"p":300000},{"f":2275,"p":280000},{"f":2290,"p":250000},{"f":2305,"p":210000},
{"f":2195,"p":180000},{"f":2210,"p":200000},{"f":2225,"p":220000},{"f":2240,"p":240000},{"f":2255,"p":240000},{"f":2270,"p":220000},{"f":2285,"p":190000},{"f":2300,"p":160000},{"f":2315,"p":140000},
{"f":2200,"p":120000},{"f":2220,"p":140000},{"f":2240,"p":160000},{"f":2260,"p":170000},{"f":2280,"p":150000},{"f":2300,"p":120000},{"f":2320,"p":100000},{"f":2330,"p":130000},
{"f":2210,"p":80000},{"f":2230,"p":90000},{"f":2250,"p":100000},{"f":2270,"p":90000},{"f":2290,"p":80000},{"f":2310,"p":60000},{"f":2240,"p":40000},{"f":2280,"p":30000},{"f":2330,"p":40000},
{"f":2350,"p":250000},{"f":2370,"p":280000},{"f":2390,"p":300000},{"f":2410,"p":310000},{"f":2430,"p":310000},{"f":2450,"p":305000},{"f":2470,"p":310000},{"f":2490,"p":300000},{"f":2500,"p":290000},
{"f":2360,"p":220000},{"f":2380,"p":250000},{"f":2400,"p":270000},{"f":2420,"p":270000},{"f":2440,"p":260000},{"f":2460,"p":270000},{"f":2480,"p":280000},{"f":2500,"p":250000},
{"f":2350,"p":180000},{"f":2370,"p":200000},{"f":2390,"p":210000},{"f":2410,"p":220000},{"f":2430,"p":210000},{"f":2450,"p":220000},{"f":2470,"p":230000},{"f":2490,"p":210000},
{"f":2360,"p":140000},{"f":2380,"p":160000},{"f":2400,"p":170000},{"f":2420,"p":160000},{"f":2440,"p":170000},{"f":2460,"p":180000},{"f":2480,"p":170000},{"f":2500,"p":150000},
{"f":2350,"p":100000},{"f":2370,"p":110000},{"f":2390,"p":120000},{"f":2410,"p":110000},{"f":2430,"p":120000},{"f":2450,"p":130000},{"f":2470,"p":120000},{"f":2490,"p":110000},
{"f":2360,"p":60000},{"f":2380,"p":70000},{"f":2400,"p":60000},{"f":2420,"p":70000},{"f":2440,"p":80000},{"f":2460,"p":60000},{"f":2480,"p":70000},{"f":2500,"p":50000},
{"f":2370,"p":30000},{"f":2390,"p":20000},{"f":2410,"p":30000},{"f":2430,"p":20000},{"f":2450,"p":30000},{"f":2470,"p":20000},{"f":2490,"p":30000},{"f":2500,"p":20000},{"f":2350,"p":40000},
{"f":10,"p":430000},{"f":25,"p":470000},{"f":40,"p":390000},{"f":55,"p":500000},{"f":70,"p":440000},{"f":85,"p":410000},{"f":100,"p":480000},{"f":115,"p":380000},{"f":130,"p":500000},{"f":145,"p":450000},{"f":160,"p":520000},{"f":175,"p":400000},{"f":190,"p":460000},{"f":205,"p":420000},{"f":220,"p":380000},{"f":235,"p":520000},{"f":250,"p":460000},{"f":265,"p":410000},{"f":280,"p":540000},{"f":295,"p":500000},{"f":310,"p":450000},{"f":325,"p":410000},{"f":340,"p":520000},{"f":355,"p":460000},{"f":370,"p":430000},{"f":385,"p":520000},{"f":400,"p":460000},{"f":415,"p":390000},{"f":430,"p":520000},{"f":445,"p":460000},{"f":460,"p":430000},{"f":475,"p":540000},{"f":490,"p":470000},{"f":505,"p":450000},{"f":520,"p":520000},{"f":535,"p":480000},{"f":550,"p":410000},{"f":565,"p":500000},{"f":580,"p":420000},{"f":595,"p":520000},{"f":610,"p":460000},{"f":625,"p":500000},{"f":640,"p":430000},{"f":655,"p":540000},{"f":670,"p":490000},{"f":685,"p":520000},{"f":700,"p":450000},{"f":715,"p":420000},{"f":730,"p":510000},{"f":745,"p":470000},{"f":760,"p":520000},{"f":775,"p":430000},{"f":790,"p":470000},{"f":805,"p":500000},{"f":820,"p":440000},{"f":835,"p":400000},{"f":850,"p":450000},{"f":865,"p":520000},{"f":880,"p":480000},{"f":895,"p":450000},{"f":910,"p":500000},{"f":925,"p":460000},{"f":940,"p":510000},{"f":955,"p":470000},{"f":970,"p":440000},{"f":985,"p":480000},{"f":1000,"p":450000},{"f":1015,"p":420000},{"f":1030,"p":380000},{"f":1045,"p":460000},{"f":1060,"p":420000},{"f":1075,"p":460000},{"f":1090,"p":400000},{"f":1105,"p":420000},
{"f":20,"p":720000},{"f":45,"p":680000},{"f":90,"p":760000},{"f":135,"p":640000},{"f":170,"p":680000},{"f":215,"p":720000},{"f":255,"p":640000},{"f":300,"p":700000},{"f":345,"p":650000},{"f":390,"p":620000},{"f":435,"p":700000},{"f":480,"p":740000},{"f":525,"p":700000},{"f":570,"p":640000},{"f":615,"p":680000},{"f":660,"p":620000},{"f":705,"p":620000},{"f":750,"p":680000},{"f":795,"p":640000},{"f":840,"p":620000},{"f":880,"p":720000},{"f":925,"p":600000},{"f":970,"p":640000},{"f":1015,"p":680000},{"f":1060,"p":700000},{"f":1100,"p":680000}
]
},
"hconcat": [
{
"width": 267, "height": 238,
"title": {"text": ["(a)\u00a0The number of\u00a0 initiating\u00a0 mes-", "sages in CoMD over time."], "orient": "bottom", "anchor": "start", "frame": "group", "dx": -49, "offset": 3, "fontSize": 21, "font": "Liberation Sans", "fontWeight": "normal", "lineHeight": 23, "color": "#111"},
"layer": [
{"data": {"name": "base"}, "mark": {"type": "rule", "strokeWidth": 1.2},
 "encoding": {
  "x": {"field": "x", "type": "quantitative", "title": "Cycles (Millions)", "scale": {"domain": [-72, 1800], "nice": false, "zero": false}, "axis": {"values": [0, 500, 1000, 1500], "domain": false, "tickSize": 5, "tickColor": "#444", "labelFont": "Open Sans", "titleFont": "Open Sans", "labelFontSize": 11.5, "titleFontSize": 11.5, "labelPadding": 3, "titlePadding": 2, "format": "d", "labelColor": "#222", "titleColor": "#222"}},
  "x2": {"field": "x2"},
  "y": {"datum": 0, "type": "quantitative", "title": "Number of initiating messages per 10K cycles", "scale": {"domain": [-308, 7030], "nice": false, "zero": false}, "axis": {"values": [0, 1000, 2000, 3000, 4000, 5000, 6000, 7000], "tickCount": 8, "domain": false, "tickSize": 5, "tickColor": "#444", "labelAngle": -90, "labelAlign": "center", "labelBaseline": "bottom", "labelPadding": 5, "labelFontSize": 12, "titleFontSize": 12.2, "titlePadding": 4, "format": "d", "labelOverlap": false, "labelExpr": "datum.value > 0 && datum.value % 2000 == 0 ? '' : datum.label"}},
  "color": {"field": "c", "type": "nominal", "scale": {"domain": ["black", "grey", "red"], "range": ["#111111", "#8c7b78", "#d95a34"]}, "legend": null},
  "strokeDash": {"field": "k", "type": "nominal", "scale": {"domain": ["solid", "dotted"], "range": [[1, 0], [2, 2]]}, "legend": null}
 }},
{"data": {"name": "spikes"}, "mark": {"type": "rule"},
 "encoding": {
  "x": {"field": "x", "type": "quantitative", "title": "Cycles (Millions)", "axis": {"values": [0, 500, 1000, 1500], "domain": false, "tickSize": 5, "tickColor": "#444", "labelFont": "Open Sans", "titleFont": "Open Sans", "labelFontSize": 11.5, "titleFontSize": 11.5, "labelPadding": 3, "titlePadding": 2, "format": "d", "labelColor": "#222", "titleColor": "#222"}},
  "y": {"field": "y", "type": "quantitative", "title": "Number of initiating messages per 10K cycles", "axis": {"values": [0, 1000, 2000, 3000, 4000, 5000, 6000, 7000], "tickCount": 8, "domain": false, "tickSize": 5, "tickColor": "#444", "labelAngle": -90, "labelAlign": "center", "labelBaseline": "bottom", "labelPadding": 5, "labelFontSize": 12, "titleFontSize": 12.2, "titlePadding": 4, "format": "d", "labelOverlap": false, "labelExpr": "datum.value > 0 && datum.value % 2000 == 0 ? '' : datum.label"}},
  "y2": {"datum": 0},
  "color": {"field": "c", "type": "nominal", "scale": {"domain": ["black", "grey", "red"], "range": ["#111111", "#8c7b78", "#d95a34"]}, "legend": null},
  "strokeWidth": {"field": "c", "type": "nominal", "scale": {"domain": ["black", "grey", "red"], "range": [1.8, 1.2, 1.3]}, "legend": null}
 }},
{"data": {"values": [{"a": 0, "b": 7000}]}, "mark": {"type": "rule", "color": "#444", "strokeWidth": 1},
 "encoding": {"x": {"datum": -72, "type": "quantitative"}, "y": {"field": "a", "type": "quantitative", "title": "Number of initiating messages per 10K cycles", "axis": {"values": [0, 1000, 2000, 3000, 4000, 5000, 6000, 7000], "tickCount": 8, "domain": false, "tickSize": 5, "tickColor": "#444", "labelAngle": -90, "labelAlign": "center", "labelBaseline": "bottom", "labelPadding": 5, "labelFontSize": 12, "titleFontSize": 12.2, "titlePadding": 4, "format": "d", "labelOverlap": false, "labelExpr": "datum.value > 0 && datum.value % 2000 == 0 ? '' : datum.label"}}, "y2": {"field": "b"}}},
{"data": {"values": [{"a": 0, "b": 1500}]}, "mark": {"type": "rule", "color": "#444", "strokeWidth": 1},
 "encoding": {"x": {"field": "a", "type": "quantitative", "title": "Cycles (Millions)", "axis": {"values": [0, 500, 1000, 1500], "domain": false, "tickSize": 5, "tickColor": "#444", "labelFont": "Open Sans", "titleFont": "Open Sans", "labelFontSize": 11.5, "titleFontSize": 11.5, "labelPadding": 3, "titlePadding": 2, "format": "d", "labelColor": "#222", "titleColor": "#222"}}, "x2": {"field": "b"}, "y": {"datum": -308, "type": "quantitative"}}}
]
},
{
"width": 267, "height": 239,
"view": {"stroke": "#222", "strokeWidth": 1},
"title": {"text": ["(b)\u00a0\u00a0FFT\u00a0\u00a0coefficients\u00a0\u00a0vs.\u00a0\u00a0\u00a0\u00a0\u00a0\u00a0\u00a0\u00a0\u00a0\u00a0fre-", "quency components."], "orient": "bottom", "anchor": "start", "frame": "group", "dx": -49, "offset": 1, "fontSize": 21, "font": "Liberation Sans", "fontWeight": "normal", "lineHeight": 23, "color": "#111"},
"data": {"name": "pts"},
"mark": {"type": "point", "shape": "circle", "filled": false, "size": 15, "strokeWidth": 0.9, "color": "#111", "opacity": 1},
"encoding": {
 "x": {"field": "f", "type": "quantitative", "title": "Frequency component", "scale": {"domain": [-104, 2594], "nice": false, "zero": false}, "axis": {"values": [0, 500, 1000, 1500, 2000, 2500], "domain": false, "tickSize": 4, "tickColor": "#222", "labelFontSize": 10.5, "titleFontSize": 10.5, "labelPadding": 2, "titlePadding": 9, "format": "d"}},
 "y": {"field": "p", "type": "quantitative", "title": "Power", "scale": {"domain": [-101000, 2590000], "nice": false, "zero": false}, "axis": {"values": [0, 500000, 1000000, 1500000, 2000000, 2500000], "domain": false, "tickSize": 4, "tickColor": "#222", "labelAngle": -90, "labelAlign": "center", "labelBaseline": "bottom", "labelPadding": 9, "labelFontSize": 10.5, "titleFontSize": 10.5, "titlePadding": 6, "format": "d", "labelExpr": "datum.value == 1000000 || datum.value == 2000000 ? '' : datum.label"}}
}
}
]
}
